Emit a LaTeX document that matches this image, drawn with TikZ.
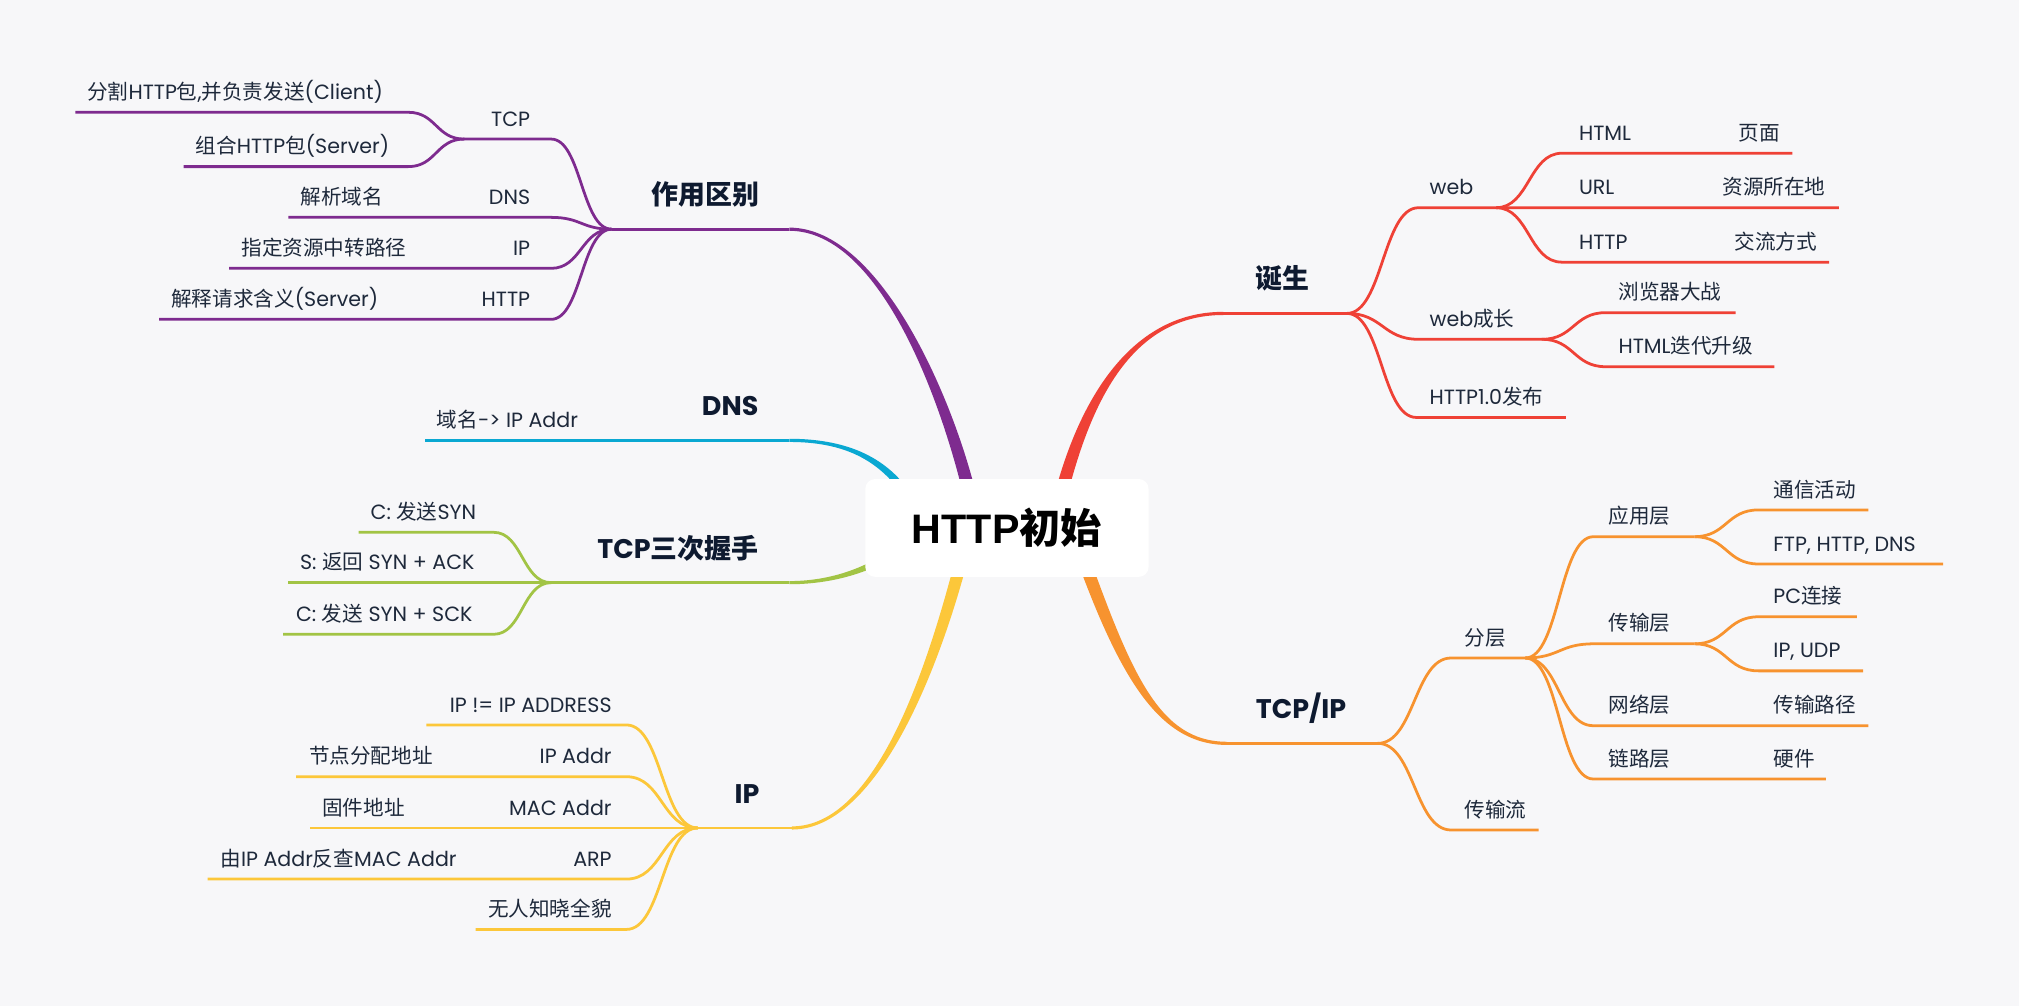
\documentclass[tikz,border=0pt]{standalone}
\usepackage{fontspec}
\setmainfont{Poppins}
\newfontfamily\cjkfont{Noto Sans CJK SC}
\newfontfamily\rootfont{Liberation Sans}
% switch to the CJK face for Han characters
\XeTeXinterchartokenstate=1
\newXeTeXintercharclass\cjkclass
\count255="4E00
\loop
  \XeTeXcharclass\count255=\cjkclass
  \ifnum\count255<"9FFF
  \advance\count255 by 1
\repeat
\XeTeXinterchartoks 0 \cjkclass = {\begingroup\cjkfont}
\XeTeXinterchartoks 4095 \cjkclass = {\begingroup\cjkfont}
\XeTeXinterchartoks \cjkclass 0 = {\endgroup}
\XeTeXinterchartoks \cjkclass 4095 = {\endgroup}
\usetikzlibrary{calc}
\definecolor{bgcol}{HTML}{F7F7F9}
\definecolor{ink}{HTML}{1E293B}
\definecolor{inkdark}{HTML}{0E1A30}
\definecolor{cpurple}{HTML}{7E2B8F}
\definecolor{ccyan}{HTML}{0AA8D2}
\definecolor{cgreen}{HTML}{A2C445}
\definecolor{cyellow}{HTML}{FCC73A}
\definecolor{cred}{HTML}{EF4136}
\definecolor{corange}{HTML}{F7932F}
% tapered main branch: colour, four bezier points, half width at start and end
\newcommand\trunk[7]{%
  \fill[#1] ($(#2)!#6!90:(#3)$) .. controls ($(#3)!#6!-90:(#2)$) and ($(#4)!#7!90:(#5)$) .. ($(#5)!#7!-90:(#4)$)
    -- ($(#5)!#7!90:(#4)$) .. controls ($(#4)!#7!-90:(#5)$) and ($(#3)!#6!90:(#2)$) .. ($(#2)!#6!-90:(#3)$) -- cycle;}

\begin{document}
\begin{tikzpicture}[x=0.65pt, y=-0.65pt,
    root/.style={fill=white, rounded corners=5pt, minimum width=143pt, minimum height=49.4pt, inner sep=0pt, text=black, font=\rootfont\bfseries\fontsize{20.8}{24}\selectfont},
    topic/.style={inner sep=0pt, text=inkdark, font=\bfseries\fontsize{13.6}{16}\selectfont},
    leaf/.style={inner sep=0pt, text=ink, font=\fontsize{10.4}{12}\selectfont},
    twig/.style={line width=1.4pt},
    curvy/.style={to path={let \p1=(\tikztostart), \p2=(\tikztotarget) in .. controls ({(\x1+\x2)/2},\y1) and ({(\x1+\x2)/2},\y2) .. (\tikztotarget)}}
  ]
  \fill[bgcol] (0,0) rectangle (1568,781);

  % 作用区别
  \coordinate (zy-e) at (613,178);
  \coordinate (zy-j) at (475,178);
  \coordinate (tcp-j) at (360.5,108);  \coordinate (tcp-r) at (428,108);
  \coordinate (fg-l) at (58.6,87.2);   \coordinate (fg-r) at (317,87.2);
  \coordinate (zh-l) at (142.6,129.4); \coordinate (zh-r) at (317,129.4);
  \coordinate (dn-l) at (224,168.8);   \coordinate (dn-r) at (428,168.8);
  \coordinate (ipz-l) at (178,208.4);  \coordinate (ipz-r) at (428,208.4);
  \coordinate (ht-l) at (123.6,248);   \coordinate (ht-r) at (428,248);
  \trunk{cpurple}{755,392}{738,316}{685,178}{zy-e}{3.2pt}{0.8pt}
  \begin{scope}[cpurple, twig]
    \draw (zy-e) -- (zy-j);
    \draw (zy-j) to[curvy] (tcp-r) -- (tcp-j);
    \draw (tcp-j) to[curvy] (fg-r) -- (fg-l);
    \draw (tcp-j) to[curvy] (zh-r) -- (zh-l);
    \draw (zy-j) to[curvy] (dn-r) -- (dn-l);
    \draw (zy-j) to[curvy] (ipz-r) -- (ipz-l);
    \draw (zy-j) to[curvy] (ht-r) -- (ht-l);
  \end{scope}
  \node[topic, anchor=base east] (zy) at (590,159) {作用区别};
  \node[leaf, anchor=base east] (tcp) at (412,98) {TCP};
  \node[leaf, anchor=base west] (fg) at (67.5,77.2) {分割HTTP包,并负责发送(Client)};
  \node[leaf, anchor=base west] (zh) at (151.6,119.4) {组合HTTP包(Server)};
  \node[leaf, anchor=base east] (dn) at (412,158.8) {DNS};
  \node[leaf, anchor=base west] (jx) at (233,158.8) {解析域名};
  \node[leaf, anchor=base east] (ipz) at (412,198.4) {IP};
  \node[leaf, anchor=base west] (zd) at (187.3,198.4) {指定资源中转路径};
  \node[leaf, anchor=base east] (ht) at (412,238) {HTTP};
  \node[leaf, anchor=base west] (js) at (132.7,238) {解释请求含义(Server)};

  % DNS
  \coordinate (dns-e) at (613,342);
  \coordinate (ym-l) at (330,342);
  \trunk{ccyan}{705,385}{685,355}{655,342}{dns-e}{1.9pt}{0.8pt}
  \draw[ccyan, twig] (dns-e) -- (ym-l);
  \node[topic, anchor=base east] (dns) at (589.3,323) {DNS};
  \node[leaf, anchor=base west] (ym) at (339,332) {域名-> IP Addr};

  % TCP三次握手
  \coordinate (ws-e) at (613,452.5);
  \coordinate (ws-j) at (428,452.5);
  \coordinate (syn-l) at (278.6,413.4); \coordinate (syn-r) at (383.4,413.4);
  \coordinate (ack-l) at (223.8,452.5);
  \coordinate (sck-l) at (219.8,492.6); \coordinate (sck-r) at (383.4,492.6);
  \trunk{cgreen}{700,425}{680,440}{650,452.5}{ws-e}{1.9pt}{0.8pt}
  \begin{scope}[cgreen, twig]
    \draw (ws-e) -- (ws-j) -- (ack-l);
    \draw (ws-j) to[curvy] (syn-r) -- (syn-l);
    \draw (ws-j) to[curvy] (sck-r) -- (sck-l);
  \end{scope}
  \node[topic, anchor=base east] (ws) at (589.3,433.5) {TCP三次握手};
  \node[leaf, anchor=base west] (syn) at (287.5,403.4) {C: 发送SYN};
  \node[leaf, anchor=base west] (ack) at (232.7,442.5) {S: 返回 SYN + ACK};
  \node[leaf, anchor=base west] (sck) at (229.6,482.6) {C: 发送 SYN + SCK};

  % IP
  \coordinate (ip-e) at (615,643);
  \coordinate (ip-j) at (541.9,643);
  \coordinate (neq-l) at (331.2,563);    \coordinate (neq-r) at (486.5,563);
  \coordinate (addr-l) at (229.9,603.2); \coordinate (addr-r) at (486.5,603.2);
  \coordinate (mac-l) at (240.4,643);
  \coordinate (arp-l) at (161.3,682.7);  \coordinate (arp-r) at (486.5,682.7);
  \coordinate (wr-l) at (369.3,721.8);   \coordinate (wr-r) at (486.5,721.8);
  \trunk{cyellow}{750,422}{725,522}{680,643}{ip-e}{3.1pt}{0.8pt}
  \begin{scope}[cyellow, twig]
    \draw (ip-e) -- (ip-j) -- (mac-l);
    \draw (ip-j) to[curvy] (neq-r) -- (neq-l);
    \draw (ip-j) to[curvy] (addr-r) -- (addr-l);
    \draw (ip-j) to[curvy] (arp-r) -- (arp-l);
    \draw (ip-j) to[curvy] (wr-r) -- (wr-l);
  \end{scope}
  \node[topic, anchor=base east] (ip) at (590,624) {IP};
  \node[leaf, anchor=base east] (neq) at (475.3,553) {IP != IP ADDRESS};
  \node[leaf, anchor=base east] (addr) at (475.3,593.2) {IP Addr};
  \node[leaf, anchor=base west] (jd) at (239.7,593.2) {节点分配地址};
  \node[leaf, anchor=base east] (mac) at (475.3,633) {MAC Addr};
  \node[leaf, anchor=base west] (gj) at (250,633) {固件地址};
  \node[leaf, anchor=base east] (arp) at (475.3,672.7) {ARP};
  \node[leaf, anchor=base west] (fc) at (170.9,672.7) {由IP Addr反查MAC Addr};
  \node[leaf, anchor=base east] (wr) at (475.3,711.8) {无人知晓全貌};

  % 诞生
  \coordinate (dan-e) at (950,243.4);
  \coordinate (dan-j) at (1046,243.4);
  \coordinate (web-l) at (1101.7,161.3); \coordinate (web-j) at (1162,161.3);
  \coordinate (html-l) at (1213,119);    \coordinate (html-r) at (1392,119);
  \coordinate (url-r) at (1428,161.3);
  \coordinate (http-l) at (1213,203.6);  \coordinate (http-r) at (1420.6,203.6);
  \coordinate (wg-l) at (1101.7,263.5);  \coordinate (wg-j) at (1197.5,263.5);
  \coordinate (ll-l) at (1247,242.8);    \coordinate (ll-r) at (1348,242.8);
  \coordinate (dd-l) at (1247,284.8);    \coordinate (dd-r) at (1378,284.8);
  \coordinate (fb-l) at (1100,324.2);    \coordinate (fb-r) at (1216,324.2);
  \trunk{cred}{822,392}{840,318}{875,243.4}{dan-e}{3.2pt}{0.8pt}
  \begin{scope}[cred, twig]
    \draw (dan-e) -- (dan-j);
    \draw (dan-j) to[curvy] (web-l) -- (web-j) -- (url-r);
    \draw (web-j) to[curvy] (html-l) -- (html-r);
    \draw (web-j) to[curvy] (http-l) -- (http-r);
    \draw (dan-j) to[curvy] (wg-l) -- (wg-j);
    \draw (wg-j) to[curvy] (ll-l) -- (ll-r);
    \draw (wg-j) to[curvy] (dd-l) -- (dd-r);
    \draw (dan-j) to[curvy] (fb-l) -- (fb-r);
  \end{scope}
  \node[topic, anchor=base west] (dan) at (975,224.4) {诞生};
  \node[leaf, anchor=base west] (web) at (1110,151.3) {web};
  \node[leaf, anchor=base west] (html) at (1226,109) {HTML};
  \node[leaf, anchor=base west] (ym2) at (1350,109) {页面};
  \node[leaf, anchor=base west] (url) at (1226,151.3) {URL};
  \node[leaf, anchor=base west] (zy2) at (1337.4,151.3) {资源所在地};
  \node[leaf, anchor=base west] (http) at (1226,193.6) {HTTP};
  \node[leaf, anchor=base west] (jl) at (1346.7,193.6) {交流方式};
  \node[leaf, anchor=base west] (wg) at (1110,253.5) {web成长};
  \node[leaf, anchor=base west] (ll) at (1256.7,232.8) {浏览器大战};
  \node[leaf, anchor=base west] (dd) at (1256.7,274.8) {HTML迭代升级};
  \node[leaf, anchor=base west] (fb) at (1110,314.2) {HTTP1.0发布};

  % TCP/IP
  \coordinate (ti-e) at (953,577.3);
  \coordinate (ti-j) at (1070,577.3);
  \coordinate (fc-l) at (1127,511);     \coordinate (fc-j) at (1184.5,511);
  \coordinate (yy-l) at (1237.5,416.8); \coordinate (yy-j) at (1316,416.8);
  \coordinate (tx-l) at (1365.7,396);   \coordinate (tx-r) at (1451,396);
  \coordinate (ftp-l) at (1365.7,438);  \coordinate (ftp-r) at (1509,438);
  \coordinate (cs-l) at (1237.5,500);   \coordinate (cs-j) at (1316,500);
  \coordinate (pc-l) at (1365.7,479);   \coordinate (pc-r) at (1442,479);
  \coordinate (udp-l) at (1365.7,521);  \coordinate (udp-r) at (1447,521);
  \coordinate (wl-l) at (1237.5,563.6); \coordinate (wl-r) at (1451,563.6);
  \coordinate (lu-l) at (1237.5,605);   \coordinate (lu-r) at (1418,605);
  \coordinate (sl-l) at (1127,644.6);   \coordinate (sl-r) at (1195,644.6);
  \trunk{corange}{838,425}{874,525}{900,577.3}{ti-e}{3.2pt}{0.8pt}
  \begin{scope}[corange, twig]
    \draw (ti-e) -- (ti-j);
    \draw (ti-j) to[curvy] (fc-l) -- (fc-j);
    \draw (fc-j) to[curvy] (yy-l) -- (yy-j);
    \draw (yy-j) to[curvy] (tx-l) -- (tx-r);
    \draw (yy-j) to[curvy] (ftp-l) -- (ftp-r);
    \draw (fc-j) to[curvy] (cs-l) -- (cs-j);
    \draw (cs-j) to[curvy] (pc-l) -- (pc-r);
    \draw (cs-j) to[curvy] (udp-l) -- (udp-r);
    \draw (fc-j) to[curvy] (wl-l) -- (wl-r);
    \draw (fc-j) to[curvy] (lu-l) -- (lu-r);
    \draw (ti-j) to[curvy] (sl-l) -- (sl-r);
  \end{scope}
  \node[topic, anchor=base west] (ti) at (975,558.3) {TCP/IP};
  \node[leaf, anchor=base west] (fcn) at (1137,501) {分层};
  \node[leaf, anchor=base west] (yy) at (1249,406.8) {应用层};
  \node[leaf, anchor=base west] (tx) at (1377,386) {通信活动};
  \node[leaf, anchor=base west] (ftp) at (1377,428) {FTP, HTTP, DNS};
  \node[leaf, anchor=base west] (cs) at (1249,490) {传输层};
  \node[leaf, anchor=base west] (pc) at (1377,469) {PC连接};
  \node[leaf, anchor=base west] (udp) at (1377,511) {IP, UDP};
  \node[leaf, anchor=base west] (wl) at (1249,553.6) {网络层};
  \node[leaf, anchor=base west] (lj) at (1377,553.6) {传输路径};
  \node[leaf, anchor=base west] (lu) at (1249,595) {链路层};
  \node[leaf, anchor=base west] (yj) at (1377,595) {硬件};
  \node[leaf, anchor=base west] (sl) at (1137,634.6) {传输流};

  % root
  \node[root] (root) at (782,410) {HTTP初始};
\end{tikzpicture}
\end{document}
